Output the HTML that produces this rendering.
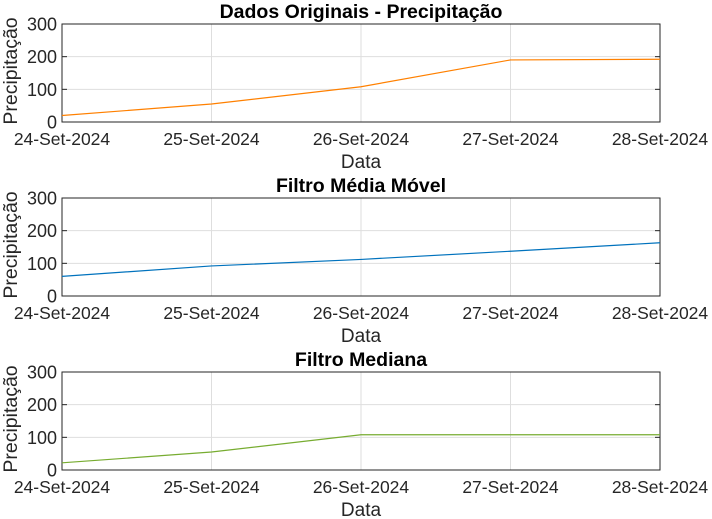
<!DOCTYPE html>
<html><head><meta charset="utf-8"><style>
body{margin:0;background:#fff}
svg{display:block;font-family:"Liberation Sans",sans-serif}
</style></head><body>
<svg id="c" width="712" height="519"></svg>
<script>
const dates=["24-Set-2024","25-Set-2024","26-Set-2024","27-Set-2024","28-Set-2024"];
const yTicks=[0,100,200,300];
const titles=["Dados Originais - Precipitação","Filtro Média Móvel","Filtro Mediana"];
const original=[20,55,108,190,192];
const movingAvg=[60,92,112,137,163];
const median=[22,55,108,108,108];
const seriesList=[original,movingAvg,median];
const colors=["#ff8000","#0072bd","#77ac30"];
const NS="http://www.w3.org/2000/svg";
const svg=document.getElementById('c');
const L=62,R=660,H=98,tops=[24,198,372];
function mk(t,a,p){const e=document.createElementNS(NS,t);for(const k in a)e.setAttribute(k,a[k]);(p||svg).appendChild(e);return e;}
const xs=i=>L+(R-L)*i/(dates.length-1);
tops.forEach((T,pi)=>{
  const g=mk('g',{});
  
  
  const ys=v=>T+H-v/300*H;
  mk('rect',{x:L,y:T,width:R-L,height:H,fill:'#fff'},g);
  dates.forEach((d,i)=>{
    const x=xs(i);
    mk('line',{x1:x,x2:x,y1:T,y2:T+H,stroke:'#dedede'},g);
    const t=mk('text',{x:x,y:T+H+23,'text-anchor':'middle','font-size':17.5,fill:'#262626'},g);
    t.textContent=d;
    
    
  });
  yTicks.forEach(v=>{
    const y=ys(v);
    mk('line',{x1:L,x2:R,y1:y,y2:y,stroke:'#dedede'},g);
    mk('line',{x1:L,x2:L+5,y1:y,y2:y,stroke:'#262626'},g);
    mk('line',{x1:R,x2:R-5,y1:y,y2:y,stroke:'#262626'},g);
    const t=mk('text',{x:L-5,y:y+6.5,'text-anchor':'end','font-size':18,fill:'#262626'},g);
    t.textContent=v;
    
    
  });
  mk('rect',{x:L,y:T,width:R-L,height:H,fill:'none',stroke:'#262626','stroke-width':1},g);
  const pl=mk('polyline',{points:seriesList[pi].map((v,i)=>xs(i)+','+ys(v)).join(' '),fill:'none',stroke:colors[pi],'stroke-width':1.2},g);
  
  
  const tt=mk('text',{x:(L+R)/2,y:T-6,'text-anchor':'middle','font-size':19.5,'font-weight':'bold',fill:'#000'},g);
  tt.textContent=titles[pi];
  
  
  const xl=mk('text',{x:(L+R)/2,y:T+H+46,'text-anchor':'middle','font-size':19,fill:'#262626'},g);
  xl.textContent='Data';
  
  
  const yl=mk('text',{x:0,y:0,'text-anchor':'middle','font-size':19.5,fill:'#262626',transform:`translate(17,${T+H/2-2}) rotate(-90)`},g);
  yl.textContent='Precipitação';
  
  
});
</script>
</body></html>
